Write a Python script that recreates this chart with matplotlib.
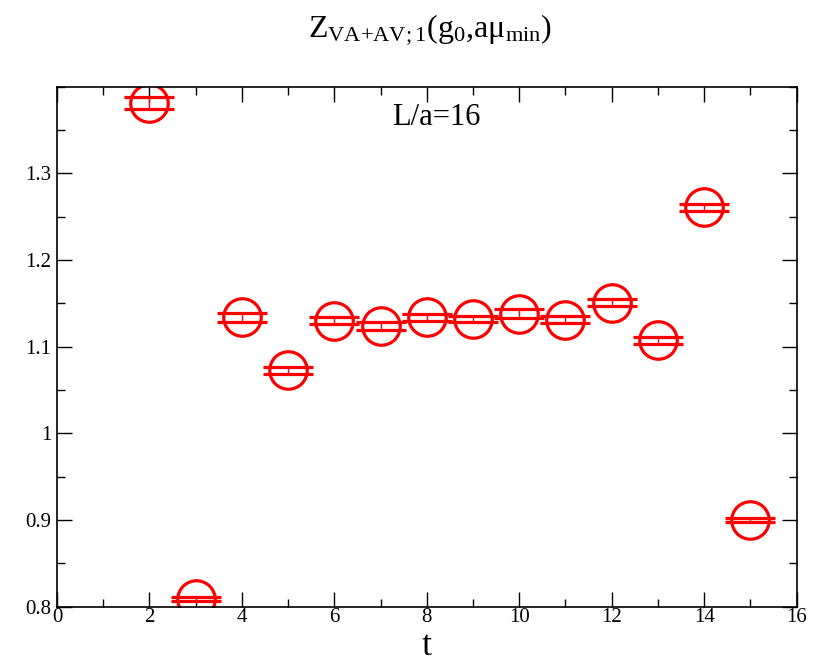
import numpy as np
import matplotlib.pyplot as plt
from matplotlib.ticker import MultipleLocator

plt.rcParams["font.family"] = ["Liberation Serif", "DejaVu Serif"]
plt.rcParams["mathtext.fontset"] = "custom"
plt.rcParams["mathtext.rm"] = "Liberation Serif"
plt.rcParams["mathtext.it"] = "Liberation Serif"

t = [2, 3, 4, 5, 6, 7, 8, 9, 10, 11, 12, 13, 14, 15]
z = [1.381, 0.809, 1.134, 1.073, 1.130, 1.124, 1.134, 1.132, 1.138, 1.131,
     1.151, 1.1075, 1.261, 0.900]
err = [0.007, 0.002, 0.005, 0.004, 0.004, 0.005, 0.004, 0.004, 0.005, 0.004,
       0.004, 0.004, 0.004, 0.002]

fig = plt.figure(figsize=(8.2, 6.63), dpi=100)
ax = fig.add_axes([0.0695, 0.085, 0.902, 0.784])

ax.errorbar(t, z, yerr=err, fmt="o", color="red", mfc="none", mec="red",
            ms=27, mew=2.3, elinewidth=1.0, capsize=18, capthick=2.3)

ax.set_xlim(0, 16)
ax.set_ylim(0.8, 1.4)
ax.xaxis.set_major_locator(MultipleLocator(2))
ax.xaxis.set_minor_locator(MultipleLocator(1))
ax.yaxis.set_minor_locator(MultipleLocator(0.05))
ax.set_yticks([0.8, 0.9, 1.0, 1.1, 1.2, 1.3])
ax.set_yticklabels(["0.8", "0.9", "1", "1.1", "1.2", "1.3"])
ax.tick_params(which="both", direction="in", top=True, right=True,
               labelsize=15, width=1)
ax.tick_params(which="major", length=11)
ax.tick_params(axis="x", pad=1)
ax.tick_params(axis="y", pad=4)
ax.tick_params(which="minor", length=5.5)
for s in ax.spines.values():
    s.set_linewidth(1.2)

# x label placed by hand under the tick labels
fig.text(0.521, 0.0, r"$\mathrm{t}$", fontsize=26, ha="center",
         va="bottom")
ax.text(8.2, 1.365, "L/a=16", fontsize=22, ha="center", va="center")
fig.text(0.525, 0.955,
         r"Z$_{\mathrm{VA{+}AV{;}1}}$(g$_0$,a$\mathrm{\mu}_{\mathrm{min}}$)",
         fontsize=23, ha="center", va="center")

fig.savefig("out.png", dpi=100)
